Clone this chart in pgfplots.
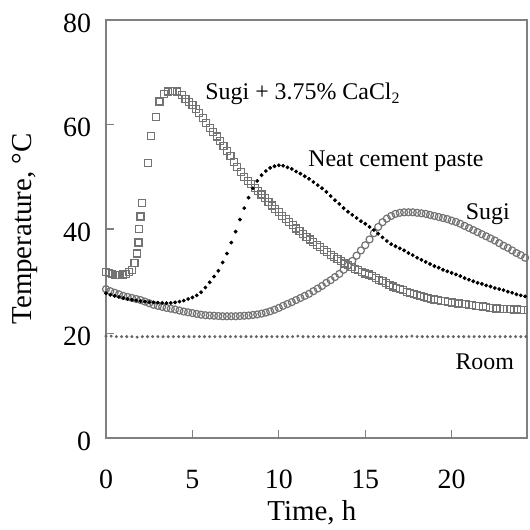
\documentclass[border=0pt]{standalone}
\usepackage{fontspec}
\setmainfont{Liberation Serif}
\usepackage{pgfplots}
\usepackage{pgfplotstable}
\pgfplotsset{compat=1.18}

% Neat cement paste
\pgfplotstableread{
t T
0 27.7
0.25 27.4
0.5 27.2
0.75 27.0
1.0 26.8
1.25 26.6
1.5 26.45
1.75 26.35
2.0 26.2
2.25 26.1
2.5 26.0
2.75 25.95
3.0 25.9
3.25 25.85
3.5 25.8
3.75 25.85
4.0 25.95
4.25 26.1
4.5 26.3
4.75 26.6
5.0 26.9
5.25 27.3
5.5 27.9
5.75 28.8
6.0 29.8
6.25 30.9
6.5 32.0
6.75 33.6
7.0 35.3
7.25 37.4
7.5 39.5
7.75 41.8
8.0 44.0
8.25 46.0
8.5 47.8
8.75 49.2
9.0 50.3
9.25 51.1
9.5 51.7
9.75 52.0
10.0 52.2
10.25 52.1
10.5 51.8
10.75 51.5
11.0 51.0
11.25 50.6
11.5 50.1
11.75 49.6
12.0 49.0
12.25 48.4
12.5 47.8
12.75 47.1
13.0 46.3
13.25 45.5
13.5 44.8
13.75 44.0
14.0 43.3
14.25 42.7
14.5 42.1
14.75 41.5
15.0 41.0
15.25 40.4
15.5 39.8
15.75 39.1
16.0 38.4
16.25 37.7
16.5 37.1
16.75 36.7
17.0 36.3
17.25 35.9
17.5 35.4
17.75 35.0
18.0 34.5
18.25 34.1
18.5 33.7
18.75 33.3
19.0 32.9
19.25 32.6
19.5 32.2
19.75 31.9
20.0 31.6
20.25 31.3
20.5 31.0
20.75 30.6
21.0 30.3
21.25 30.0
21.5 29.7
21.75 29.5
22.0 29.2
22.25 29.0
22.5 28.7
22.75 28.5
23.0 28.3
23.25 28.0
23.5 27.8
23.75 27.5
24.0 27.3
24.25 27.1
}\neat

% Sugi
\pgfplotstableread{
t T
0 28.5
0.25 28.1
0.5 27.8
0.75 27.5
1.0 27.2
1.25 27.0
1.5 26.8
1.75 26.6
2.0 26.4
2.25 26.1
2.5 25.8
2.75 25.5
3.0 25.3
3.25 25.1
3.5 24.9
3.75 24.75
4.0 24.6
4.25 24.4
4.5 24.2
4.75 24.05
5.0 23.9
5.25 23.75
5.5 23.6
5.75 23.5
6.0 23.45
6.25 23.4
6.5 23.35
6.75 23.3
7.0 23.3
7.25 23.3
7.5 23.3
7.75 23.35
8.0 23.4
8.25 23.45
8.5 23.55
8.75 23.65
9.0 23.8
9.25 24.0
9.5 24.25
9.75 24.55
10.0 24.9
10.25 25.3
10.5 25.65
10.75 26.0
11.0 26.4
11.25 26.8
11.5 27.2
11.75 27.6
12.0 28.1
12.25 28.6
12.5 29.1
12.75 29.7
13.0 30.2
13.25 30.8
13.5 31.4
13.75 32.2
14.0 33.0
14.25 33.9
14.5 34.9
14.75 35.9
15.0 36.9
15.25 38.0
15.5 39.2
15.75 40.4
16.0 41.3
16.25 42.0
16.5 42.5
16.75 42.9
17.0 43.1
17.25 43.2
17.5 43.2
17.75 43.2
18.0 43.1
18.25 43.0
18.5 42.9
18.75 42.7
19.0 42.5
19.25 42.3
19.5 42.1
19.75 41.9
20.0 41.6
20.25 41.35
20.5 41.0
20.75 40.6
21.0 40.2
21.25 39.8
21.5 39.4
21.75 39.0
22.0 38.6
22.25 38.2
22.5 37.8
22.75 37.3
23.0 36.8
23.25 36.4
23.5 35.9
23.75 35.4
24.0 35.0
24.25 34.5
}\sugi

% Sugi + 3.75% CaCl2
\pgfplotstableread{
t T
0 31.8
0.17 31.6
0.33 31.4
0.5 31.2
0.67 31.2
0.83 31.2
1.0 31.3
1.17 31.4
1.33 31.7
1.5 32.2
1.65 33.5
1.8 35.3
1.88 37.4
1.93 40.0
2.0 42.4
2.08 45.0
2.45 52.6
2.6 57.8
2.9 61.5
3.1 64.4
3.35 65.9
3.6 66.3
3.85 66.4
4.1 66.3
4.4 65.6
4.6 64.9
4.8 64.3
5.0 63.7
5.2 63.0
5.4 62.2
5.6 61.2
5.8 60.3
6.0 59.4
6.2 58.6
6.4 57.7
6.6 56.8
6.8 55.9
7.0 55.0
7.2 53.9
7.4 52.9
7.6 51.8
7.8 50.9
8.0 50.0
8.2 49.2
8.4 48.6
8.6 47.9
8.8 47.3
9.0 46.6
9.2 45.9
9.4 45.2
9.6 44.5
9.8 43.9
10.0 43.2
10.2 42.5
10.4 41.9
10.6 41.3
10.8 40.7
11.0 40.1
11.2 39.6
11.4 39.0
11.6 38.5
11.8 38.0
12.0 37.5
12.2 37.0
12.4 36.5
12.6 36.0
12.8 35.6
13.0 35.1
13.2 34.7
13.4 34.2
13.6 33.8
13.8 33.4
14.0 33.1
14.2 32.7
14.4 32.4
14.6 32.1
14.8 31.8
15.0 31.5
15.2 31.3
15.4 31.0
15.6 30.6
15.8 30.3
16.0 30.0
16.2 29.6
16.4 29.3
16.6 29.0
16.8 28.7
17.0 28.5
17.2 28.3
17.4 28.0
17.6 27.8
17.8 27.6
18.0 27.4
18.2 27.2
18.4 26.95
18.6 26.75
18.8 26.6
19.0 26.5
19.2 26.4
19.4 26.25
19.6 26.15
19.8 26.05
20.0 25.95
20.2 25.85
20.4 25.75
20.6 25.7
20.8 25.6
21.0 25.5
21.2 25.4
21.4 25.3
21.6 25.25
21.8 25.15
22.0 25.0
22.2 24.95
22.4 24.9
22.6 24.8
22.8 24.75
23.0 24.7
23.2 24.65
23.4 24.65
23.6 24.6
23.8 24.6
24.0 24.55
24.2 24.5
24.4 24.5
}\cacl

% Room
\pgfplotstableread{
t T
0 19.5
0.3 19.5
0.6 19.4
0.9 19.4
1.2 19.4
1.5 19.4
1.8 19.3
2.1 19.4
2.4 19.4
2.7 19.4
3.0 19.4
3.3 19.4
3.6 19.4
3.9 19.4
4.2 19.4
4.5 19.4
4.8 19.4
5.1 19.4
5.4 19.4
5.7 19.4
6.0 19.4
6.3 19.4
6.6 19.4
6.9 19.4
7.2 19.4
7.5 19.4
7.8 19.4
8.1 19.4
8.4 19.4
8.7 19.4
9.0 19.4
9.3 19.4
9.6 19.4
9.9 19.4
10.2 19.4
10.5 19.4
10.8 19.4
11.1 19.5
11.4 19.4
11.7 19.4
12.0 19.4
12.3 19.4
12.6 19.4
12.9 19.4
13.2 19.4
13.5 19.4
13.8 19.4
14.1 19.4
14.4 19.4
14.7 19.4
15.0 19.4
15.3 19.4
15.6 19.4
15.9 19.4
16.2 19.4
16.5 19.4
16.8 19.4
17.1 19.4
17.4 19.4
17.7 19.5
18.0 19.4
18.3 19.4
18.6 19.4
18.9 19.4
19.2 19.4
19.5 19.4
19.8 19.4
20.1 19.4
20.4 19.4
20.7 19.4
21.0 19.4
21.3 19.4
21.6 19.4
21.9 19.4
22.2 19.4
22.5 19.4
22.8 19.4
23.1 19.4
23.4 19.4
23.7 19.4
24.0 19.4
24.3 19.4
}\room

\begin{document}
\begin{tikzpicture}[x=1bp, y=1bp,
  annot/.style={anchor=base west, inner sep=0pt, font=\fontsize{12}{14}\selectfont}]
\begin{axis}[
  at={(0,0)}, anchor=south west,
  scale only axis, width=210.5bp, height=209bp,
  xmin=0, xmax=24.36, ymin=0, ymax=80,
  xtick={0,5,10,15,20}, ytick={0,20,40,60,80},
  xtick pos=left, ytick pos=left,
  tick align=inside, major tick length=4bp,
  axis line style={black!50, line width=0.6bp},
  every tick/.style={black!50, line width=0.6bp},
  /pgf/number format/assume math mode=true,
  ticklabel style={font=\fontsize{14}{16}\selectfont},
  xticklabel shift=12.5bp, yticklabel shift=4bp,
  yticklabel style={yshift=-1.5bp},
  xlabel={Time, h}, ylabel={Temperature, °C},
  every axis x label/.style={at={(axis description cs:0.489,-0.178)}, anchor=center,
    font=\fontsize{14.5}{17}\selectfont},
  every axis y label/.style={at={(axis description cs:-0.193,0.5)}, anchor=center, rotate=90,
    font=\fontsize{14.5}{17}\selectfont},
]
\addplot[only marks, mark=*, mark size=0.55bp, black!60] table {\room};
\addplot[only marks, mark=o, mark size=1.75bp, mark options={black!55, line width=0.6bp}] table {\sugi};
\addplot[only marks, mark=square, mark size=1.75bp, mark options={black!55, line width=0.6bp}] table {\cacl};
\addplot[only marks, mark=*, mark size=0.75bp, black] table {\neat};

\node[annot] at (axis cs:5.73,64.7) {Sugi + 3.75\% CaCl\textsubscript{2}};
\node[annot] at (axis cs:11.68,51.9) {Neat cement paste};
\node[annot] at (axis cs:20.8,41.9) {Sugi};
\node[annot] at (axis cs:20.2,13.2) {Room};
\end{axis}
\pgfresetboundingbox
\path (-53bp,-46bp) rectangle (212bp,219bp);
\end{tikzpicture}
\end{document}
